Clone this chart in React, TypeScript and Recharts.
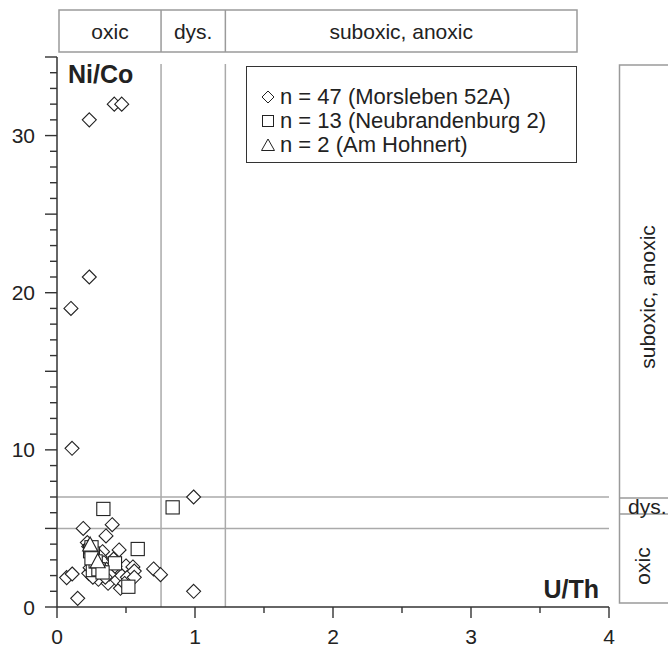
import React from 'react'
import { Legend, ReferenceLine, Scatter, ScatterChart, XAxis, YAxis } from 'recharts'

// U/Th (x) and Ni/Co (y) per sample
const morslebenUTh = [
    0.415, 0.469, 0.234, 0.234, 0.101, 0.109,
    0.99, 0.99, 0.15, 0.07, 0.11, 0.19, 0.40, 0.355, 0.70, 0.75,
    0.22, 0.23, 0.25, 0.27, 0.23, 0.24, 0.30, 0.33, 0.31, 0.34,
    0.36, 0.37, 0.40, 0.41, 0.43, 0.45, 0.45, 0.46, 0.47, 0.50,
    0.51, 0.55, 0.56, 0.56, 0.38, 0.35, 0.29, 0.42, 0.49, 0.26, 0.32,
]
const morslebenNiCo = [
    32.0, 32.0, 31.0, 21.0, 19.0, 10.1,
    7.0, 1.0, 0.55, 1.87, 2.1, 5.0, 5.24, 4.52, 2.42, 2.06,
    4.1, 3.85, 3.3, 2.6, 2.14, 2.5, 1.76, 3.52, 3.2, 2.82,
    2.4, 1.51, 2.35, 3.05, 1.78, 2.25, 3.63, 1.19, 2.0, 2.61,
    1.89, 2.55, 2.29, 1.89, 2.1, 1.9, 2.2, 2.6, 1.5, 1.9, 2.5,
]

const neubrandenburgUTh = [0.336, 0.838, 0.585, 0.517, 0.24, 0.26, 0.25, 0.42, 0.26, 0.30, 0.28, 0.25, 0.33]
const neubrandenburgNiCo = [6.24, 6.34, 3.69, 1.29, 3.55, 3.4, 3.8, 2.78, 2.35, 2.4, 2.9, 3.1, 2.2]

const hohnertUTh = [0.24, 0.295]
const hohnertNiCo = [3.95, 2.88]

const legendLabels = ['n = 47 (Morsleben 52A)', 'n = 13 (Neubrandenburg 2)', 'n = 2 (Am Hohnert)']

const xTicks = [0, 0.5, 1, 1.5, 2, 2.5, 3, 3.5, 4]
const yTicks = Array.from({ length: 36 }, (_, i) => i)

// Jones & Manning thresholds
const uthOxic = 0.754
const uthDys = 1.22
const nicoOxic = 5
const nicoDys = 7
const gridTop = 34.55

const toPoints = (xs: number[], ys: number[]) => xs.map((x, i) => ({ x, y: ys[i] }))

const font = '"Liberation Sans", Arial, sans-serif'
const ink = '#222'

const Diamond = (p: any) => {
    const { cx, cy } = p
    const r = 7
    return <path d={`M${cx},${cy - r}L${cx + r},${cy}L${cx},${cy + r}L${cx - r},${cy}Z`} fill="#fff" stroke={ink} strokeWidth={1.1} />
}

const Square = (p: any) => {
    const { cx, cy } = p
    const r = 6.6
    return <rect x={cx - r} y={cy - r} width={2 * r} height={2 * r} fill="#fff" stroke={ink} strokeWidth={1.1} />
}

const Triangle = (p: any) => {
    const { cx, cy } = p
    return <path d={`M${cx},${cy - 8}L${cx + 7.5},${cy + 6}L${cx - 7.5},${cy + 6}Z`} fill="#fff" stroke={ink} strokeWidth={1.1} />
}

const YTick = (props: any) => {
    const { x, y, payload } = props
    const v = payload.value
    const len = v % 5 === 0 ? 12 : 7
    return (
        <g>
            <line x1={x - len} x2={x} y1={y} y2={y} stroke="#333" strokeWidth={1.4} />
            {v % 10 === 0 && (
                <text x={x - 22} y={y} dy="0.36em" textAnchor="end" fontFamily={font} fontSize={21} fill={ink}>{v}</text>
            )}
        </g>
    )
}

const XTick = (props: any) => {
    const { x, y, payload } = props
    const v = payload.value
    const major = Number.isInteger(v)
    return (
        <g>
            <line x1={x} x2={x} y1={y} y2={y + (major ? 11 : 6)} stroke="#333" strokeWidth={1.4} />
            {major && (
                <text x={x} y={y + 37} textAnchor="middle" fontFamily={font} fontSize={21} fill={ink}>{v}</text>
            )}
        </g>
    )
}

const LegendBox = () => {
    const shapes = [
        <path d="M6,0L12,6L6,12L0,6Z" fill="none" stroke={ink} strokeWidth={1} />,
        <rect x={0.5} y={0.5} width={11} height={11} fill="none" stroke={ink} strokeWidth={1} />,
        <path d="M6,0L12.5,11.5L-0.5,11.5Z" fill="none" stroke={ink} strokeWidth={1} />,
    ]
    return (
        <div style={{ width: 331, height: 97, boxSizing: 'border-box', border: '1.5px solid #333', background: '#fff', fontFamily: font, fontSize: 22, color: ink, paddingTop: 18, paddingLeft: 15 }}>
            {legendLabels.map((label, i) => (
                <div key={label} style={{ height: 24, lineHeight: '24px', display: 'flex', alignItems: 'center', whiteSpace: 'nowrap' }}>
                    <svg width={13} height={13} style={{ marginRight: 5, overflow: 'visible' }}>{shapes[i]}</svg>
                    {label}
                </div>
            ))}
        </div>
    )
}

const App = () => {
    const plotLeft = 57
    const plotRight = 609
    const xPx = (v: number) => plotLeft + (v / 4) * (plotRight - plotLeft)
    const boxStroke = '#9a9a9a'

    return (
        <div style={{ position: 'absolute', left: 0, top: 0, width: 668, height: 647, background: '#fff' }}>
            <ScatterChart width={668} height={647} margin={{ top: 57, right: 59, bottom: 0, left: 0 }}>
                <XAxis type="number" dataKey="x" domain={[0, 4]} ticks={xTicks} interval={0} height={40}
                    tickSize={0} tickMargin={0} tick={<XTick />} axisLine={{ stroke: '#333', strokeWidth: 1.5 }} allowDataOverflow />
                <YAxis type="number" dataKey="y" domain={[0, 35]} ticks={yTicks} interval={0} width={57}
                    tickSize={0} tickMargin={0} tick={<YTick />} axisLine={{ stroke: '#333', strokeWidth: 1.5 }} allowDataOverflow />
                <ReferenceLine segment={[{ x: uthOxic, y: 0 }, { x: uthOxic, y: gridTop }]} stroke="#aaa" strokeWidth={1.5} />
                <ReferenceLine segment={[{ x: uthDys, y: 0 }, { x: uthDys, y: gridTop }]} stroke="#aaa" strokeWidth={1.5} />
                <ReferenceLine y={nicoOxic} stroke="#aaa" strokeWidth={1.5} />
                <ReferenceLine y={nicoDys} stroke="#aaa" strokeWidth={1.5} />
                <Scatter name="Morsleben 52A" data={toPoints(morslebenUTh, morslebenNiCo)} shape={Diamond} isAnimationActive={false} />
                <Scatter name="Neubrandenburg 2" data={toPoints(neubrandenburgUTh, neubrandenburgNiCo)} shape={Square} isAnimationActive={false} />
                <Scatter name="Am Hohnert" data={toPoints(hohnertUTh, hohnertNiCo)} shape={Triangle} isAnimationActive={false} />
                <Legend layout="vertical" align="center" verticalAlign="middle" content={<LegendBox />}
                    wrapperStyle={{ left: 246, top: 66, width: 331, height: 97, margin: 0 }} />
            </ScatterChart>
            <svg width={668} height={647} style={{ position: 'absolute', left: 0, top: 0, pointerEvents: 'none' }} fontFamily={font} fontSize={21} fill={ink}>
                {/* redox boxes on top */}
                <rect x={59} y={10} width={518} height={42} fill="none" stroke={boxStroke} strokeWidth={1.5} />
                <line x1={xPx(uthOxic)} x2={xPx(uthOxic)} y1={10} y2={52} stroke={boxStroke} strokeWidth={1.5} />
                <line x1={xPx(uthDys)} x2={xPx(uthDys)} y1={10} y2={52} stroke={boxStroke} strokeWidth={1.5} />
                <text x={(59 + xPx(uthOxic)) / 2} y={39} textAnchor="middle">oxic</text>
                <text x={(xPx(uthOxic) + xPx(uthDys)) / 2} y={39} textAnchor="middle">dys.</text>
                <text x={(xPx(uthDys) + 577) / 2} y={39} textAnchor="middle">suboxic, anoxic</text>
                {/* redox boxes on the right */}
                <rect x={619.5} y={65} width={70} height={538} fill="none" stroke={boxStroke} strokeWidth={1.5} />
                <line x1={619.5} x2={668} y1={498} y2={498} stroke={boxStroke} strokeWidth={1.5} />
                <line x1={619.5} x2={668} y1={514} y2={514} stroke={boxStroke} strokeWidth={1.5} />
                <text transform="translate(655,297) rotate(-90)" textAnchor="middle">suboxic, anoxic</text>
                <text x={628} y={514}>dys.</text>
                <text transform="translate(650,566) rotate(-90)" textAnchor="middle">oxic</text>
                {/* axis titles */}
                <text x={68} y={83} fontWeight="bold" fontSize={25}>Ni/Co</text>
                <text x={599} y={598} fontWeight="bold" fontSize={25} textAnchor="end">U/Th</text>
            </svg>
        </div>
    )
}

export default App
